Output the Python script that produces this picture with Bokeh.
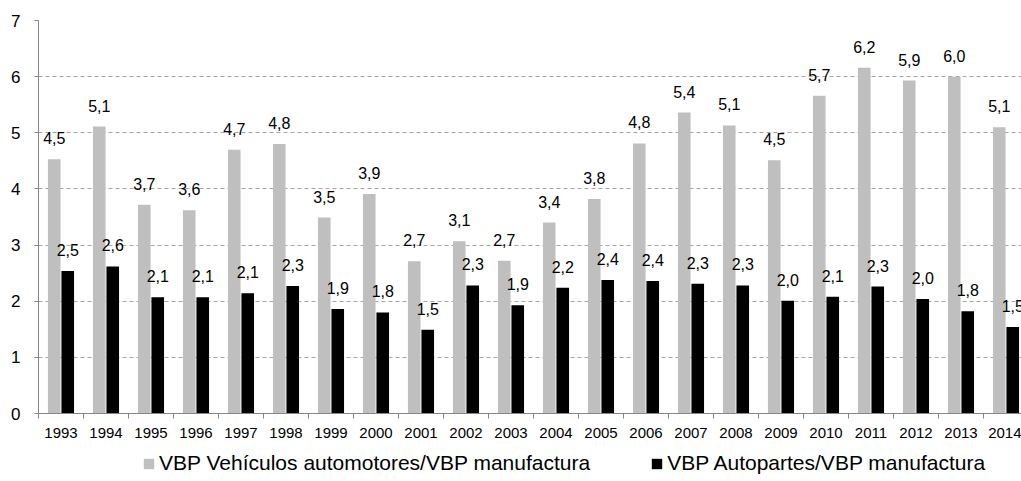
from bokeh.plotting import figure
from bokeh.models import ColumnDataSource, Range1d, FixedTicker, Legend, LegendItem
from bokeh.layouts import column
from bokeh.embed import file_html
from bokeh.resources import INLINE
from bokeh.core.properties import value

years = ["1993", "1994", "1995", "1996", "1997", "1998", "1999", "2000", "2001", "2002", "2003",
         "2004", "2005", "2006", "2007", "2008", "2009", "2010", "2011", "2012", "2013", "2014"]
vehiculos = [4.53, 5.11, 3.72, 3.62, 4.70, 4.80, 3.49, 3.91, 2.71, 3.07, 2.72,
             3.40, 3.82, 4.81, 5.36, 5.13, 4.51, 5.66, 6.16, 5.93, 6.00, 5.10]
autopartes = [2.54, 2.62, 2.07, 2.07, 2.14, 2.27, 1.86, 1.80, 1.49, 2.28, 1.93,
              2.24, 2.38, 2.36, 2.31, 2.28, 2.01, 2.08, 2.26, 2.04, 1.82, 1.54]
serie_names = ["VBP Vehículos automotores/VBP manufactura", "VBP Autopartes/VBP manufactura"]
y_ticks = [0, 1, 2, 3, 4, 5, 6, 7]

FONT = "Liberation Sans"
GRAY = "#BFBFBF"
AXIS = "#868686"

idx = list(range(len(years)))
fmt = lambda v: f"{v:.1f}".replace(".", ",")
src = ColumnDataSource(dict(
    x=idx,
    xv=[i - 0.15 for i in idx],
    xa=[i + 0.15 for i in idx],
    veh=vehiculos,
    aut=autopartes,
    lveh=[fmt(v) for v in vehiculos],
    laut=[fmt(v) for v in autopartes],
))

left, top = 38, 20
frame_w, frame_h = 983, 393
cat_px = 45.0
x_end = -0.5 + frame_w / cat_px

p = figure(frame_width=frame_w, frame_height=frame_h, output_backend="svg", toolbar_location=None,
           x_range=Range1d(-0.5, x_end), y_range=Range1d(0, 7),
           min_border_left=left, min_border_right=0, min_border_top=top,
           min_border_bottom=32)
p.outline_line_color = None
p.background_fill_color = "white"
p.border_fill_color = "white"

r1 = p.vbar(x="xv", top="veh", width=0.28, source=src, fill_color=GRAY, line_color=None)
r2 = p.vbar(x="xa", top="aut", width=0.28, source=src, fill_color="black", line_color=None)

p.text(x="xv", y="veh", text="lveh", source=src, text_align="center", text_baseline="middle",
       y_offset=-21, text_font=value(FONT), text_font_size="16px", text_color="black")
p.text(x="xa", y="aut", text="laut", source=src, text_align="center", text_baseline="middle",
       y_offset=-21, text_font=value(FONT), text_font_size="16px", text_color="black")

# x axis
p.xaxis.ticker = FixedTicker(ticks=idx, minor_ticks=[i - 0.5 for i in range(len(years) + 1)])
p.xaxis.major_label_overrides = {i: y for i, y in zip(idx, years)}
p.xaxis.major_tick_line_color = None
p.xaxis.minor_tick_line_color = AXIS
p.xaxis.minor_tick_out = 5
p.xaxis.minor_tick_in = 0
p.xaxis.axis_line_color = AXIS
p.xaxis.major_label_text_font = FONT
p.xaxis.major_label_text_font_size = "15px"
p.xaxis.major_label_text_color = "black"
p.xaxis.major_label_standoff = 8

# y axis
p.yaxis.ticker = FixedTicker(ticks=y_ticks)
p.yaxis.axis_line_color = AXIS
p.yaxis.major_tick_line_color = AXIS
p.yaxis.major_tick_out = 4
p.yaxis.major_tick_in = 0
p.yaxis.minor_tick_line_color = None
p.yaxis.major_label_text_font = FONT
p.yaxis.major_label_text_font_size = "17px"
p.yaxis.major_label_text_color = "black"
p.yaxis.major_label_standoff = 14

p.xgrid.grid_line_color = None
p.ygrid.grid_line_color = "#A6A6A6"
p.ygrid.grid_line_dash = "4 3"
p.ygrid.grid_line_width = 1

# legend strip below the chart
p2 = figure(width=left + frame_w, height=34, output_backend="svg", toolbar_location=None,
            x_range=Range1d(0, 1), y_range=Range1d(0, 1), x_axis_type=None, y_axis_type=None,
            min_border=0)
p2.outline_line_color = None
p2.grid.grid_line_color = None
g1 = p2.vbar(x=[10], top=[10], bottom=[9], width=0.1, fill_color=GRAY, line_color=None)
g2 = p2.vbar(x=[10], top=[10], bottom=[9], width=0.1, fill_color="black", line_color=None)

legend = Legend(items=[LegendItem(label=serie_names[0], renderers=[g1]),
                       LegendItem(label=serie_names[1], renderers=[g2])],
                orientation="horizontal", location=(104, 4),
                label_text_font=FONT, label_text_font_size="21px", label_text_color="black",
                glyph_width=13, glyph_height=13, label_standoff=4, spacing=60,
                padding=0, margin=0, border_line_color=None, background_fill_alpha=0)
p2.add_layout(legend, "center")

open("out.html", "w").write(file_html(column(p, p2), INLINE))
